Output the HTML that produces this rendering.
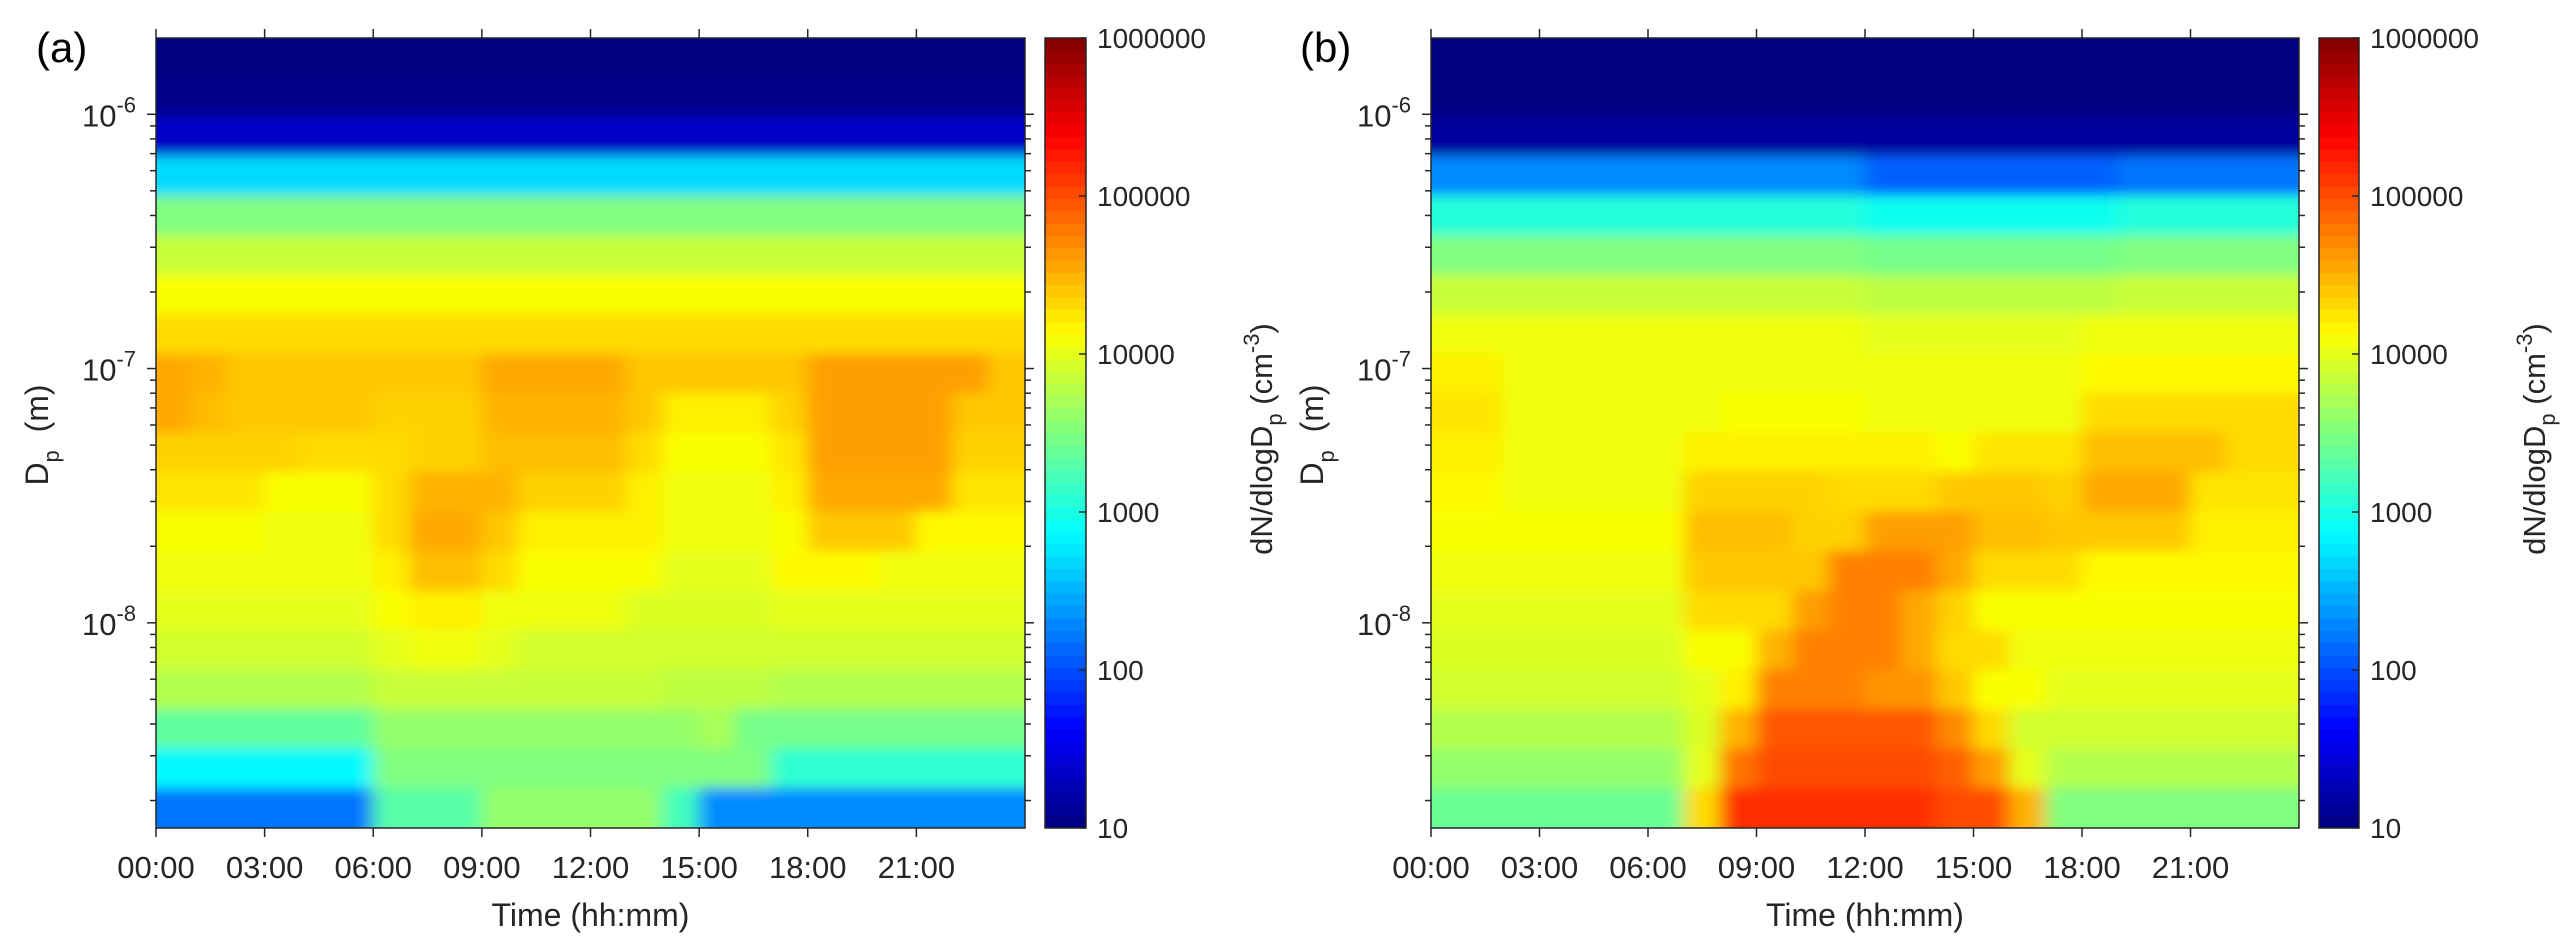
<!DOCTYPE html>
<html><head><meta charset="utf-8"><style>
html,body{margin:0;padding:0;background:#fff;}
svg{display:block;font-family:"Liberation Sans",Arial,sans-serif;}
</style></head><body>
<svg id="fig" width="2573" height="950" viewBox="0 0 2573 950" xmlns="http://www.w3.org/2000/svg">
<defs>
<filter id="smooth" x="-5%" y="-5%" width="110%" height="110%"><feGaussianBlur stdDeviation="9 6"/></filter>
<clipPath id="clipA"><rect x="156" y="38" width="869" height="790"/></clipPath>
<clipPath id="clipB"><rect x="1431" y="38" width="868" height="790"/></clipPath>
</defs>
</svg>
<script>
// ---- data ----
const hours = [0,1,2,3,4,5,6,7,8,9,10,11,12,13,14,15,16,17,18,19,20,21,22,23];
const xTickLabels = ["00:00","03:00","06:00","09:00","12:00","15:00","18:00","21:00"];
const xTickHours = [0,3,6,9,12,15,18,21];
const yTickExp = [-6,-7,-8];
const cbTickLabels = ["10","100","1000","10000","100000","1000000"];
const cbTickLog = [1,2,3,4,5,6];
// rows: top (largest Dp) to bottom (smallest Dp); values = log10(dN/dlogDp)
const panelA_logConc = [
[1.0,1.0,1.0,1.0,1.0,1.0,1.0,1.0,1.0,1.0,1.0,1.0,1.0,1.0,1.0,1.0,1.0,1.0,1.0,1.0,1.0,1.0,1.0,1.0],
[1.05,1.05,1.05,1.05,1.05,1.05,1.05,1.05,1.05,1.05,1.05,1.05,1.05,1.05,1.05,1.05,1.05,1.05,1.05,1.05,1.05,1.05,1.05,1.05],
[1.35,1.35,1.35,1.35,1.35,1.35,1.35,1.35,1.35,1.35,1.35,1.35,1.35,1.35,1.35,1.35,1.35,1.35,1.35,1.35,1.35,1.35,1.35,1.35],
[2.7,2.7,2.7,2.7,2.7,2.7,2.7,2.7,2.7,2.7,2.7,2.7,2.7,2.7,2.7,2.7,2.7,2.7,2.7,2.7,2.7,2.7,2.7,2.7],
[3.5,3.5,3.5,3.5,3.5,3.5,3.5,3.5,3.5,3.5,3.5,3.5,3.5,3.5,3.5,3.5,3.5,3.5,3.5,3.5,3.5,3.5,3.5,3.5],
[3.85,3.85,3.85,3.85,3.85,3.85,3.85,3.85,3.85,3.85,3.85,3.85,3.85,3.85,3.85,3.85,3.85,3.85,3.85,3.85,3.85,3.85,3.85,3.85],
[4.1,4.1,4.1,4.1,4.1,4.1,4.1,4.1,4.1,4.1,4.1,4.1,4.1,4.1,4.1,4.1,4.1,4.1,4.1,4.1,4.1,4.1,4.1,4.1],
[4.3,4.3,4.3,4.3,4.3,4.3,4.3,4.3,4.3,4.3,4.3,4.3,4.3,4.3,4.3,4.3,4.3,4.3,4.3,4.3,4.3,4.3,4.3,4.3],
[4.55,4.5,4.4,4.4,4.4,4.4,4.4,4.4,4.4,4.55,4.55,4.55,4.55,4.4,4.4,4.4,4.4,4.4,4.6,4.6,4.6,4.6,4.6,4.4],
[4.55,4.45,4.4,4.4,4.4,4.4,4.35,4.35,4.35,4.5,4.5,4.5,4.5,4.4,4.2,4.2,4.2,4.35,4.6,4.6,4.6,4.6,4.4,4.4],
[4.35,4.35,4.35,4.35,4.3,4.3,4.3,4.35,4.35,4.45,4.45,4.45,4.45,4.3,4.1,4.1,4.1,4.25,4.6,4.6,4.6,4.6,4.35,4.35],
[4.25,4.25,4.25,4.1,4.1,4.1,4.3,4.5,4.5,4.5,4.35,4.35,4.35,4.2,4.05,4.05,4.05,4.2,4.55,4.55,4.55,4.55,4.25,4.25],
[4.1,4.1,4.1,4.05,4.05,4.05,4.3,4.55,4.55,4.4,4.2,4.2,4.2,4.2,4.05,4.05,4.05,4.1,4.4,4.4,4.4,4.15,4.15,4.15],
[4.05,4.05,4.05,4.05,4.05,4.05,4.2,4.45,4.45,4.3,4.1,4.1,4.1,4.1,4.0,4.0,4.0,4.15,4.15,4.15,4.05,4.05,4.05,4.05],
[4.0,4.0,4.0,4.0,4.0,4.0,4.1,4.2,4.2,4.05,4.05,4.05,4.05,3.95,3.95,3.95,3.95,4.0,4.0,4.0,4.0,4.0,4.0,4.0],
[3.9,3.9,3.9,3.9,3.9,3.9,4.0,4.05,4.05,4.0,3.9,3.9,3.9,3.9,3.9,3.9,3.9,3.9,3.9,3.9,3.9,3.9,3.9,3.9],
[3.75,3.75,3.75,3.75,3.75,3.75,3.85,3.85,3.85,3.85,3.85,3.85,3.85,3.85,3.8,3.8,3.8,3.75,3.75,3.75,3.75,3.75,3.75,3.75],
[3.35,3.35,3.35,3.35,3.35,3.35,3.6,3.6,3.6,3.6,3.6,3.6,3.6,3.6,3.6,3.7,3.45,3.45,3.45,3.45,3.45,3.45,3.45,3.45],
[2.85,2.85,2.85,2.85,2.85,2.85,3.5,3.5,3.5,3.5,3.5,3.5,3.5,3.5,3.5,3.5,3.5,3.1,3.1,3.1,3.1,3.1,3.1,3.1],
[2.2,2.2,2.2,2.2,2.2,2.2,3.3,3.3,3.3,3.6,3.6,3.6,3.6,3.6,3.2,2.3,2.3,2.3,2.3,2.3,2.3,2.3,2.3,2.3]
];
const panelB_logConc = [
[1.0,1.0,1.0,1.0,1.0,1.0,1.0,1.0,1.0,1.0,1.0,1.0,1.0,1.0,1.0,1.0,1.0,1.0,1.0,1.0,1.0,1.0,1.0,1.0],
[1.0,1.0,1.0,1.0,1.0,1.0,1.0,1.0,1.0,1.0,1.0,1.0,1.0,1.0,1.0,1.0,1.0,1.0,1.0,1.0,1.0,1.0,1.0,1.0],
[1.15,1.15,1.15,1.15,1.15,1.15,1.15,1.15,1.15,1.15,1.15,1.15,1.15,1.15,1.15,1.15,1.15,1.15,1.15,1.15,1.15,1.15,1.15,1.15],
[2.3,2.3,2.3,2.3,2.3,2.3,2.3,2.3,2.3,2.3,2.3,2.3,2.1,2.1,2.1,2.1,2.1,2.1,2.1,2.2,2.2,2.2,2.2,2.2],
[3.05,3.05,3.05,3.05,3.05,3.05,3.05,3.05,3.05,3.05,3.05,3.05,2.95,2.95,2.95,2.95,2.95,2.95,2.95,3.05,3.05,3.05,3.05,3.05],
[3.5,3.5,3.5,3.5,3.5,3.5,3.5,3.5,3.5,3.5,3.5,3.5,3.45,3.45,3.45,3.45,3.45,3.45,3.45,3.5,3.5,3.5,3.5,3.5],
[3.85,3.85,3.85,3.85,3.85,3.85,3.85,3.85,3.85,3.85,3.85,3.85,3.8,3.8,3.8,3.8,3.8,3.8,3.8,3.85,3.85,3.85,3.85,3.85],
[4.05,4.05,4.05,4.05,4.05,4.05,4.05,4.05,4.05,4.05,4.05,4.05,4.0,4.0,4.0,4.0,4.0,4.0,4.05,4.05,4.05,4.05,4.05,4.05],
[4.2,4.2,4.05,4.05,4.05,4.05,4.05,4.05,4.05,4.05,4.05,4.05,4.05,4.05,4.05,4.05,4.05,4.05,4.15,4.15,4.15,4.15,4.15,4.15],
[4.25,4.25,4.05,4.05,4.05,4.05,4.05,4.05,4.1,4.1,4.1,4.1,4.05,4.05,4.05,4.05,4.05,4.05,4.3,4.3,4.3,4.3,4.3,4.3],
[4.2,4.2,4.05,4.05,4.05,4.05,4.05,4.2,4.2,4.2,4.2,4.2,4.2,4.2,4.1,4.25,4.25,4.25,4.45,4.45,4.45,4.45,4.3,4.3],
[4.15,4.15,4.05,4.05,4.05,4.05,4.05,4.35,4.35,4.35,4.35,4.3,4.3,4.3,4.4,4.4,4.4,4.35,4.55,4.55,4.55,4.25,4.25,4.25],
[4.1,4.1,4.1,4.1,4.1,4.1,4.1,4.45,4.45,4.45,4.35,4.35,4.6,4.6,4.6,4.45,4.45,4.4,4.4,4.4,4.4,4.2,4.2,4.2],
[4.05,4.05,4.05,4.05,4.05,4.05,4.05,4.4,4.4,4.4,4.4,4.75,4.75,4.75,4.55,4.3,4.3,4.3,4.15,4.15,4.15,4.15,4.15,4.15],
[4.0,4.0,4.0,4.0,4.0,4.0,4.0,4.3,4.3,4.3,4.6,4.75,4.75,4.55,4.35,4.1,4.1,4.1,4.1,4.1,4.1,4.1,4.1,4.1],
[3.95,3.95,3.95,3.95,3.95,3.95,3.95,4.1,4.1,4.5,4.75,4.75,4.75,4.55,4.3,4.3,4.05,4.05,4.05,4.05,4.05,4.05,4.05,4.05],
[3.9,3.9,3.9,3.9,3.9,3.9,3.9,4.0,4.2,4.75,4.75,4.75,4.65,4.65,4.4,4.1,4.1,4.0,4.0,4.0,4.0,4.0,4.0,4.0],
[3.75,3.75,3.75,3.75,3.75,3.75,3.75,3.95,4.5,4.95,4.95,4.95,4.95,4.95,4.7,4.3,3.9,3.9,3.9,3.9,3.9,3.9,3.9,3.9],
[3.6,3.6,3.6,3.6,3.6,3.6,3.6,4.0,4.8,5.0,5.0,5.0,5.0,5.0,4.9,4.6,4.0,3.75,3.75,3.75,3.75,3.75,3.75,3.75],
[3.4,3.4,3.4,3.4,3.4,3.4,3.4,4.3,5.15,5.15,5.15,5.15,5.15,5.15,5.0,5.0,4.5,3.5,3.5,3.5,3.5,3.5,3.5,3.5]
];
// ---- rendering ----
const NS="http://www.w3.org/2000/svg";
const svg=document.getElementById('fig');
function el(tag,attrs,parent){const e=document.createElementNS(NS,tag);for(const k in attrs)e.setAttribute(k,attrs[k]);(parent||svg).appendChild(e);return e;}
function jet(t){t=Math.max(0,Math.min(1,t));const c=v=>Math.round(255*Math.max(0,Math.min(1,v)));
 return `rgb(${c(1.5-Math.abs(4*t-3))},${c(1.5-Math.abs(4*t-2))},${c(1.5-Math.abs(4*t-1))})`;}
const cMin=1,cMax=6;
const logTop=-5.70, logBot=-8.807;
const PAD=40;

function drawPanel(p){
 const {x0,x1,y0,y1,data,clip,cb0,cb1,letter,name}=p;
 const xs=h=>x0+(h/24)*(x1-x0);
 const ys=l=>y0+(logTop-l)/(logTop-logBot)*(y1-y0);
 const g=el('g',{'clip-path':`url(#${clip})`});
 
 
 const hg=el('g',{filter:'url(#smooth)'},g);
 const nR=data.length, step=(logTop-logBot)/nR;
 data.forEach((row,ri)=>{
  const lt=logTop-ri*step, lb=lt-step;
  row.forEach((v,ci)=>{
   let xa=xs(hours[ci])-0.5, xb=xs(hours[ci]+1)+0.5, ya=ys(lt)-0.5, yb=ys(lb)+0.5;
   if(ci===0)xa-=PAD; if(ci===row.length-1)xb+=PAD;
   if(ri===0)ya-=PAD; if(ri===nR-1)yb+=PAD;
   const r=el('rect',{x:xa,y:ya,width:xb-xa,height:yb-ya,fill:jet((v-cMin)/(cMax-cMin))},hg);
   
   
  });
 });
 const frame=el('rect',{x:x0,y:y0,width:x1-x0,height:y1-y0,fill:'none',stroke:'#262626','stroke-width':1.5});
 
 
 xTickHours.forEach((h,i)=>{
  const x=xs(h);
  el('line',{x1:x,x2:x,y1:y1,y2:y1+9,stroke:'#262626','stroke-width':1.5});
  el('line',{x1:x,x2:x,y1:y0,y2:y0-9,stroke:'#262626','stroke-width':1.5});
  const t=el('text',{x:x,y:878,'text-anchor':'middle','font-size':31,fill:'#262626'});
  t.textContent=xTickLabels[i];
  
  
 });
 for(let d=-9;d<=-6;d++){
  for(let m=1;m<=9;m++){
   const l=d+Math.log10(m); if(l>logTop||l<logBot)continue;
   const y=ys(l), len=m===1?9:6;
   el('line',{x1:x0,x2:x0-len,y1:y,y2:y,stroke:'#262626','stroke-width':1.5});
   el('line',{x1:x1,x2:x1+len,y1:y,y2:y,stroke:'#262626','stroke-width':1.5});
  }
 }
 yTickExp.forEach(e=>{
  const t=el('text',{x:x0-20,y:ys(e)+12,'text-anchor':'end','font-size':31,fill:'#262626'});
  
  
  const a=el('tspan',{},t);a.textContent='10';
  const b=el('tspan',{dy:-14,'font-size':22},t);b.textContent=String(e);
 });
 const xt=el('text',{x:(x0+x1)/2,y:926,'text-anchor':'middle','font-size':32,fill:'#262626'});
 xt.textContent='Time (hh:mm)';
 
 
 const yt=el('text',{transform:`translate(${x0-108},435) rotate(-90)`,'text-anchor':'middle','font-size':32,fill:'#262626'});
 
 
 let s=el('tspan',{},yt);s.textContent='D';
 s=el('tspan',{dy:11,'font-size':22},yt);s.textContent='p';
 s=el('tspan',{dy:-11},yt);s.textContent='\u00a0\u00a0(m)';
 const lt=el('text',{x:p.letterX,y:62,'font-size':42,fill:'#000'});
 lt.textContent=letter;
 
 
 const cbg=el('g',{});
 
 
 const n=64, hgt=(y1-y0)/n;
 for(let i=0;i<n;i++){
  el('rect',{x:cb0,y:y1-(i+1)*hgt-0.3,width:cb1-cb0,height:hgt+0.6,fill:jet((i+0.5)/n)},cbg);
 }
 el('rect',{x:cb0,y:y0,width:cb1-cb0,height:y1-y0,fill:'none',stroke:'#262626','stroke-width':1.5},cbg);
 const cy=l=>y1-(l-cMin)/(cMax-cMin)*(y1-y0);
 cbTickLog.forEach((l,i)=>{
  const y=cy(l);
  el('line',{x1:cb1,x2:cb1-7,y1:y,y2:y,stroke:'#262626','stroke-width':1.5},cbg);
  const t=el('text',{x:cb1+11,y:y+10,'font-size':28,fill:'#262626'});
  t.textContent=cbTickLabels[i];
  
  
 });
 const ct=el('text',{transform:`translate(${p.cbTitleX},439) rotate(-90)`,'text-anchor':'middle','font-size':31,fill:'#262626'});
 
 
 s=el('tspan',{},ct);s.textContent='dN/dlogD';
 s=el('tspan',{dy:10,'font-size':22},ct);s.textContent='p';
 s=el('tspan',{dy:-10},ct);s.textContent='\u00a0(cm';
 s=el('tspan',{dy:-13,'font-size':22},ct);s.textContent='-3';
 s=el('tspan',{dy:13},ct);s.textContent=')';
}
drawPanel({x0:156,x1:1025,y0:38,y1:828,data:panelA_logConc,clip:'clipA',cb0:1045,cb1:1086,letter:'(a)',letterX:36,cbTitleX:1272,name:'panel-a'});
drawPanel({x0:1431,x1:2299,y0:38,y1:828,data:panelB_logConc,clip:'clipB',cb0:2319,cb1:2359,letter:'(b)',letterX:1300,cbTitleX:2545,name:'panel-b'});
</script>
</body></html>
